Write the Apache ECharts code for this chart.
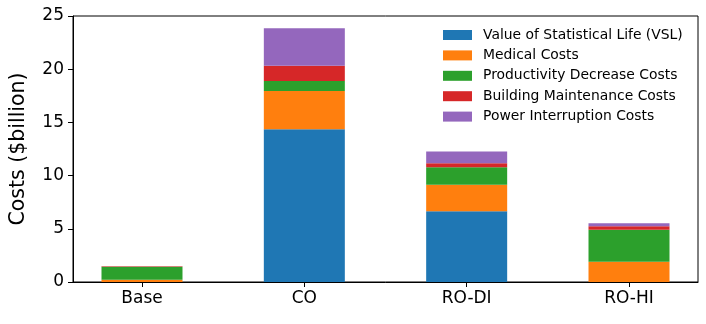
<!DOCTYPE html>
<html>
<head>
<meta charset="utf-8">
<script src="https://cdn.jsdelivr.net/npm/echarts@6/dist/echarts.min.js"></script>
<style>
  html, body { margin: 0; padding: 0; background: #fff; }
  #chart { width: 706px; height: 324px; }
</style>
</head>
<body>
<div id="chart"></div>
<script>
// categories and stacked cost components ($billion)
const categories = ['Base', 'CO', 'RO-DI', 'RO-HI']
const vsl = [0, 14.36, 6.64, 0]
const medical = [0.22, 3.58, 2.51, 1.9]
const productivity = [1.22, 0.94, 1.63, 3.02]
const building = [0.03, 1.44, 0.38, 0.33]
const power = [0.02, 3.52, 1.1, 0.26]
const yTicks = [0, 5, 10, 15, 20, 25]

const seriesNames = [
  'Value of Statistical Life (VSL)',
  'Medical Costs',
  'Productivity Decrease Costs',
  'Building Maintenance Costs',
  'Power Interruption Costs'
]
const seriesData = [vsl, medical, productivity, building, power]
const colors = ['#1f77b4', '#ff7f0e', '#2ca02c', '#d62728', '#9467bd']

const chart = echarts.init(document.getElementById('chart'))
chart.setOption({
  backgroundColor: '#fff',
  animation: false,
  grid: {
    left: 73,
    right: 8,
    top: 16,
    bottom: 42,
    show: true,
    borderColor: '#000',
    borderWidth: 1
  },
  legend: {
    orient: 'vertical',
    left: 438,
    top: 23,
    itemWidth: 29,
    itemHeight: 10,
    itemGap: 6.4,
    icon: 'rect',
    textStyle: {
      fontFamily: 'DejaVu Sans',
      fontSize: 13.9,
      color: '#000',
      lineHeight: 14,
      padding: [0, 0, 0, 6]
    },
    data: seriesNames
  },
  xAxis: {
    type: 'value',
    min: -0.425,
    max: 3.425,
    splitLine: { show: false },
    axisLine: { show: true, onZero: false, lineStyle: { color: '#000', width: 1 } },
    axisTick: {
      show: true,
      inside: false,
      length: 5,
      customValues: [0, 1, 2, 3],
      lineStyle: { color: '#000' }
    },
    axisLabel: {
      customValues: [0, 1, 2, 3],
      formatter: function(v) {
        return categories[Math.round(v)]
      },
      fontFamily: 'DejaVu Sans',
      fontSize: 17,
      color: '#000',
      margin: 8
    }
  },
  yAxis: {
    type: 'value',
    min: 0,
    max: 25,
    interval: 5,
    name: 'Costs ($billion)',
    nameLocation: 'middle',
    nameGap: 44,
    nameTextStyle: {
      fontFamily: 'DejaVu Sans',
      fontSize: 20.5,
      color: '#000'
    },
    splitLine: { show: false },
    axisLine: { show: true, onZero: false, lineStyle: { color: '#000', width: 1 } },
    axisTick: { show: true, length: 5, lineStyle: { color: '#000' } },
    axisLabel: {
      fontFamily: 'DejaVu Sans',
      fontSize: 17,
      color: '#000',
      margin: 9,
      customValues: yTicks
    }
  },
  series: seriesNames.map((name, i) => ({
    name: name,
    type: 'bar',
    stack: 'total',
    barWidth: 81,
    itemStyle: { color: colors[i] },
    // value first so the stack runs on y; x is the category position
    dimensions: ['cost', 'pos'],
    encode: { x: 'pos', y: 'cost' },
    data: seriesData[i].map((v, j) => [v, j])
  }))
})
</script>
</body>
</html>
